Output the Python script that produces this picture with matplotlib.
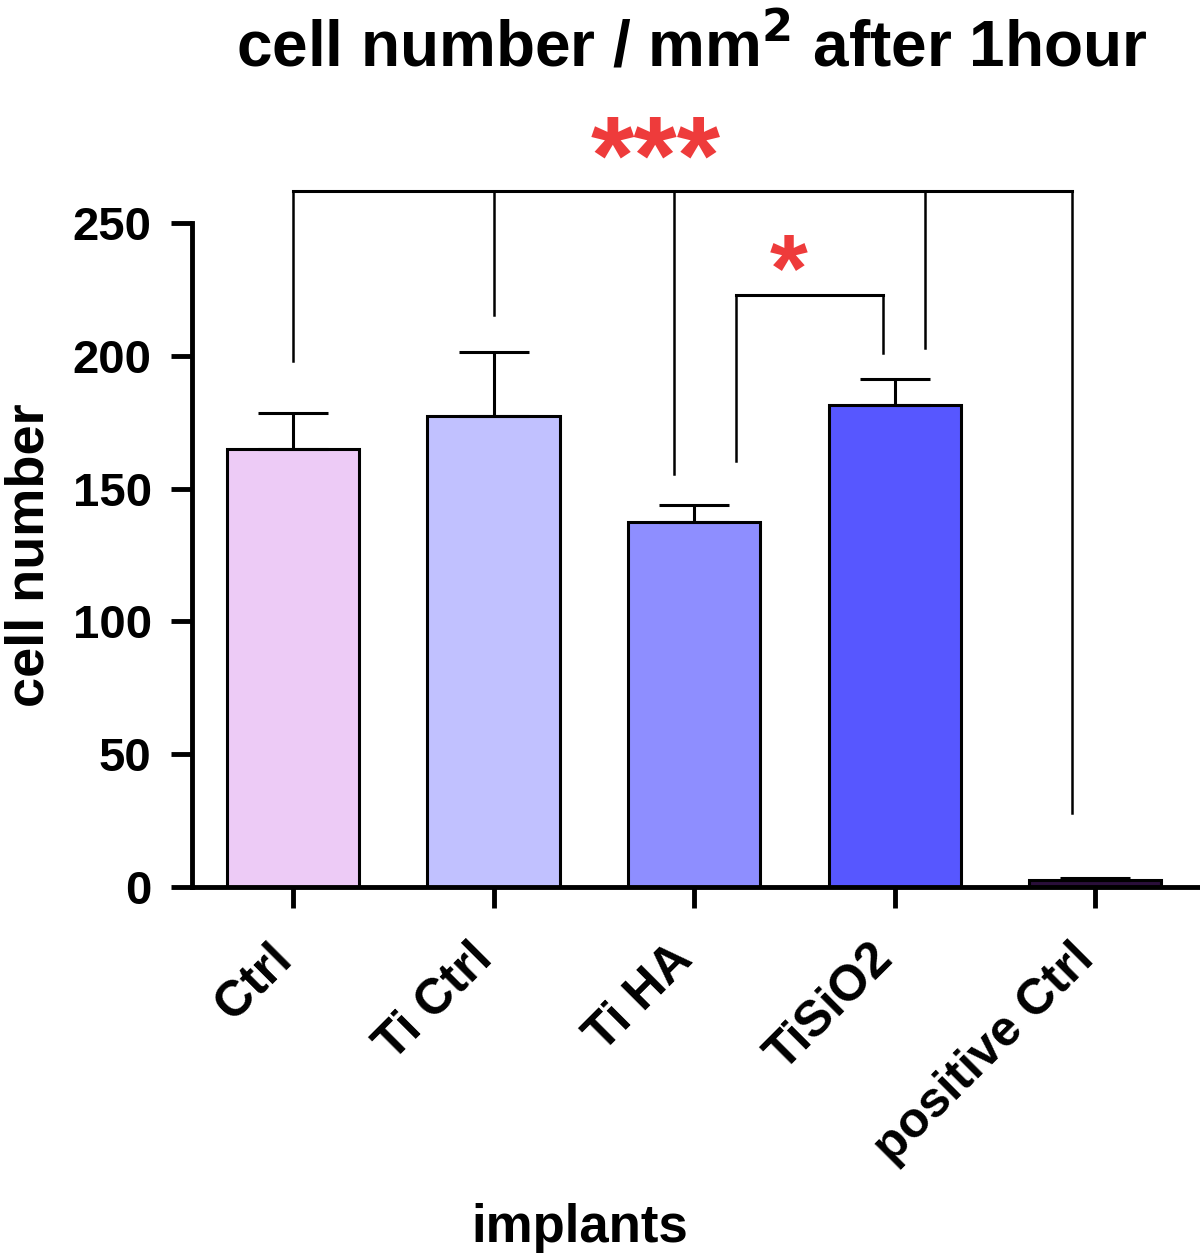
import numpy as np
import matplotlib.pyplot as plt
import matplotlib.transforms as mtransforms

plt.rcParams['font.family'] = ['Liberation Sans', 'DejaVu Sans']
plt.rcParams['font.weight'] = 'bold'

# -------------------------------
# data
# -------------------------------
groups = ['Ctrl', 'Ti Ctrl', 'Ti HA', 'TiSiO2', 'positive Ctrl']
means = [165, 177.5, 137.5, 181.5, 2.5]
sem = [13.5, 24, 6.5, 10, 1.0]
colors = ['#EDCBF6', '#C1C1FF', '#8E8EFF', '#5757FF', '#2A0F3A']

# *** bracket: top line and the drops (x position, lower end)
big_top = 262
big_x = [0.0, 1.0, 1.9, 3.15, 3.885]
big_low = [198, 215.5, 155.5, 203, 28]
# * bracket between Ti HA and TiSiO2
small_top = 223
small_x = [2.21, 2.94]
small_low = [160.5, 201]

x = np.arange(len(groups))

fig = plt.figure(figsize=(12, 12.56), dpi=100)
ax = fig.add_axes([0.16, 0.2938, 0.838, 0.613])

ax.bar(x, means, width=0.66, color=colors, edgecolor='black', linewidth=2.2, zorder=2)
ax.errorbar(x, means, yerr=[np.zeros(len(sem)), sem], fmt='none', ecolor='black',
            elinewidth=2.2, capsize=25, capthick=2.2, zorder=3)

# significance brackets
ax.plot([big_x[0], big_x[-1]], [big_top, big_top], color='black', lw=2.2)
for xi, lo in zip(big_x, big_low):
    ax.plot([xi, xi], [lo, big_top], color='black', lw=1.8)
ax.plot(small_x, [small_top, small_top], color='black', lw=2.2)
for xi, lo in zip(small_x, small_low):
    ax.plot([xi, xi], [lo, small_top], color='black', lw=1.8)

ax.text(1.81, 272, '***', color='#EE3B3B', fontsize=80, ha='center', va='center')
ax.text(2.47, 230, '*', color='#EE3B3B', fontsize=70, ha='center', va='center')

ax.set_xlim(-0.504, 4.51)
ax.set_ylim(0, 290)
ax.set_yticks([0, 50, 100, 150, 200, 250])
ax.spines['top'].set_visible(False)
ax.spines['right'].set_visible(False)
ax.spines['left'].set_bounds(0, 250)
ax.spines['left'].set_linewidth(3.5)
ax.spines['bottom'].set_linewidth(3.5)
ax.tick_params(axis='both', width=3.5, length=15)
ax.tick_params(axis='y', pad=14, labelsize=34)
ax.set_xticks(x)
ax.set_xticklabels(groups, rotation=45, ha='right', rotation_mode='anchor', fontsize=36)
ax.tick_params(axis='x', pad=20)
shift = mtransforms.ScaledTranslation(-0.25, 0, fig.dpi_scale_trans)
for lab in ax.get_xticklabels():
    lab.set_transform(lab.get_transform() + shift)

fig.text(0.576, 0.962, 'cell number / mm$^\\mathbf{2}$ after 1hour', fontsize=46,
         fontweight='bold', ha='center', va='center')
fig.text(0.025, 0.558, 'cell number', fontsize=39, fontweight='bold', rotation=90,
         ha='center', va='center')
fig.text(0.483, 0.022, 'implants', fontsize=38, fontweight='bold', ha='center', va='center')

plt.savefig('out.png', dpi=100)
